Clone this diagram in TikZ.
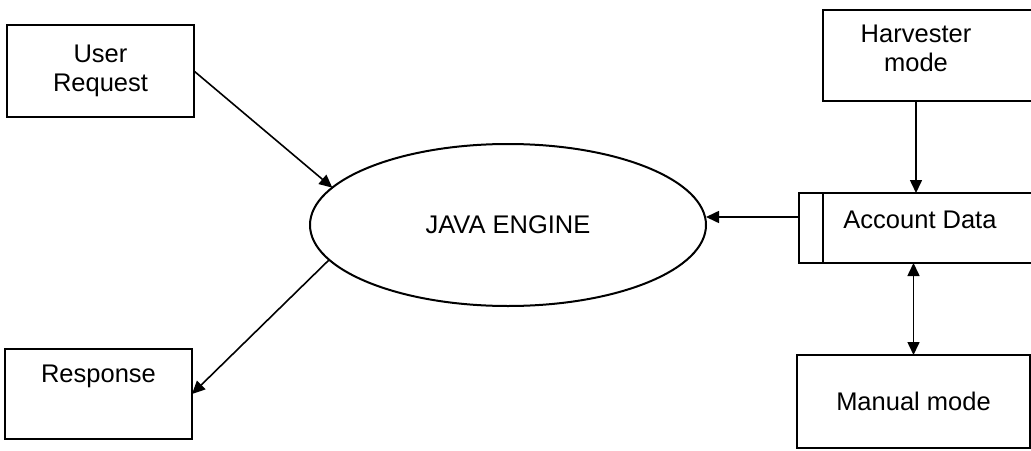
\documentclass[tikz,border=0pt]{standalone}
\usepackage{fontspec}
\setmainfont{Liberation Sans}
\usetikzlibrary{shapes.geometric,arrows.meta}
\begin{document}
\begin{tikzpicture}[x=1pt,y=1pt,
  every node/.style={font=\fontsize{25.5}{29}\selectfont, align=center},
  box/.style={draw, line width=2pt, inner sep=0pt, outer sep=0pt},
  engine/.style={draw, ellipse, line width=2pt, inner sep=0pt, outer sep=0pt,
    minimum width=396pt, minimum height=162pt},
  arr/.style={line width=1.6pt, -{Triangle[length=13pt,width=12pt]}},
  darr/.style={line width=1.6pt, {Triangle[length=13pt,width=12pt]}-{Triangle[length=13pt,width=12pt]}}]
\clip (0,0) rectangle (1031,-450);

% external entities
\node[box, anchor=north west, minimum width=187pt, minimum height=92pt] (ur) at (7,-25) {User\\Request};
\node[box, anchor=north west, minimum width=187pt, minimum height=90pt] (rsp) at (5,-349) {};
\node (rspt) at ([yshift=-27pt]rsp.north) {Response};

% process
\node[engine] (je) at (508,-225) {JAVA ENGINE};

% sources feeding the data store (open to the right)
\node[box, anchor=north west, minimum width=230pt, minimum height=91pt] (hv) at (823,-10) {};
\node (hvt) at (916,-48.5) {Harvester\\mode};

\node[box, anchor=north west, minimum width=250pt, minimum height=70pt] (acc) at (799,-193) {};
\draw[line width=2pt] ([xshift=24pt]acc.north west) -- ([xshift=24pt]acc.south west);
\node (acct) at (920,-220) {Account Data};

\node[box, anchor=north west, minimum width=233pt, minimum height=93pt] (mm) at (797,-355) {Manual mode};

% flows
\draw[arr] (ur.east) -- (je.168);
\draw[arr] (je.191) -- (rsp.east);
\draw[arr] ([yshift=11pt]acc.west) -- ([yshift=11pt]acc.west -| je.east);
\draw[arr] (hvt |- hv.south) -- (hvt |- acc.north);
\draw[darr] (mm.north |- acc.south) -- (mm.north);
\end{tikzpicture}
\end{document}
